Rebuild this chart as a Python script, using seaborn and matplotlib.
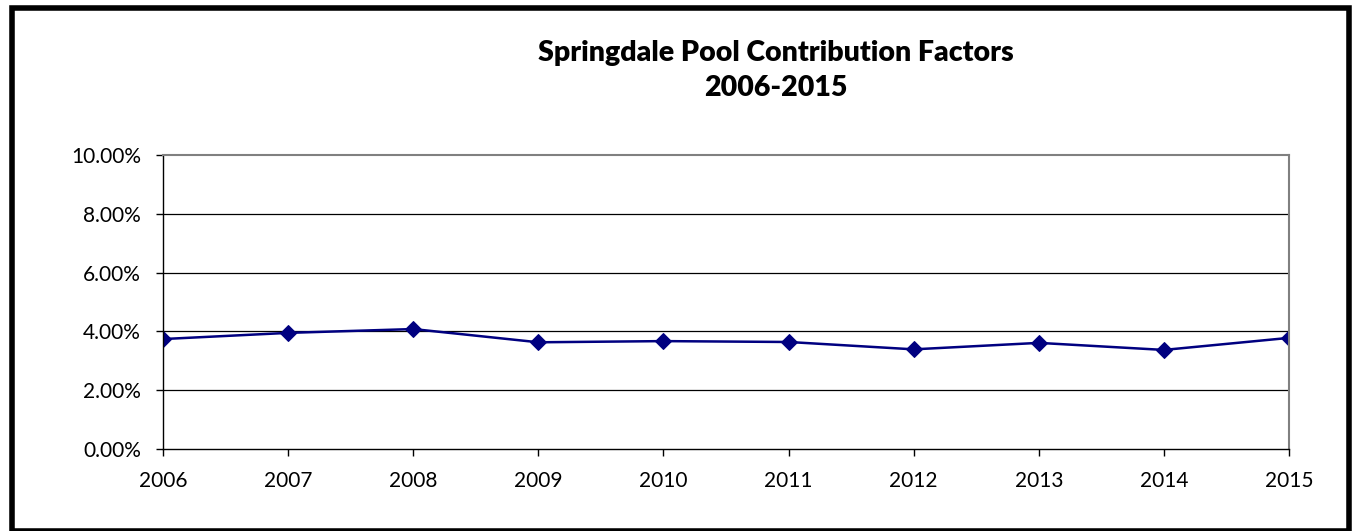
import pandas as pd
import matplotlib
matplotlib.use('Agg')
import matplotlib.pyplot as plt
import seaborn as sns
from matplotlib.ticker import PercentFormatter
from matplotlib.patches import Rectangle

sns.set_style("white")
plt.rcParams['font.family'] = ['Lato', 'DejaVu Sans']
plt.rcParams['text.color'] = 'black'

# data
years = [2006, 2007, 2008, 2009, 2010, 2011, 2012, 2013, 2014, 2015]
factors = [3.74, 3.95, 4.08, 3.63, 3.67, 3.64, 3.39, 3.61, 3.37, 3.78]
year_labels = [str(y) for y in years]

df = pd.DataFrame({'year': years, 'factor': factors})

fig = plt.figure(figsize=(13.53, 5.31), dpi=100)
ax = fig.add_axes([0.1205, 0.1544, 0.8322, 0.5537])

sns.lineplot(data=df, x='year', y='factor', ax=ax, color='#000080',
             linewidth=1.8, marker='D', markersize=8, markeredgecolor='#000080')

ax.set_xlim(years[0], years[-1])
ax.set_ylim(0, 10)
ax.set_xticks(years)
ax.set_xticklabels(year_labels)
ax.set_yticks([0, 2, 4, 6, 8, 10])
ax.yaxis.set_major_formatter(PercentFormatter(decimals=2))
ax.set_xlabel('')
ax.set_ylabel('')

for v in [2, 4, 6, 8]:
    ax.axhline(v, color='black', linewidth=0.9, zorder=0)

ax.tick_params(axis='both', labelsize=15, colors='black', length=5, width=1,
               direction='out', left=True, bottom=True)
ax.tick_params(axis='x', pad=11)
ax.tick_params(axis='y', pad=11)
for side in ['left', 'bottom']:
    ax.spines[side].set_color('black')
    ax.spines[side].set_linewidth(1)
for side in ['top', 'right']:
    ax.spines[side].set_color('#808080')
    ax.spines[side].set_linewidth(1.5)

fig.text(0.5736, 0.90, 'Springdale Pool Contribution Factors', ha='center', va='center',
         fontsize=20.5, fontweight='heavy', color='black')
fig.text(0.5736, 0.834, '2006-2015', ha='center', va='center',
         fontsize=20.5, fontweight='heavy', color='black')

# outer chart border
fig.patches.append(Rectangle((0.009, 0.0), 0.988, 0.985, transform=fig.transFigure,
                             fill=False, edgecolor='black', linewidth=4))

fig.savefig('out.png', dpi=100)
